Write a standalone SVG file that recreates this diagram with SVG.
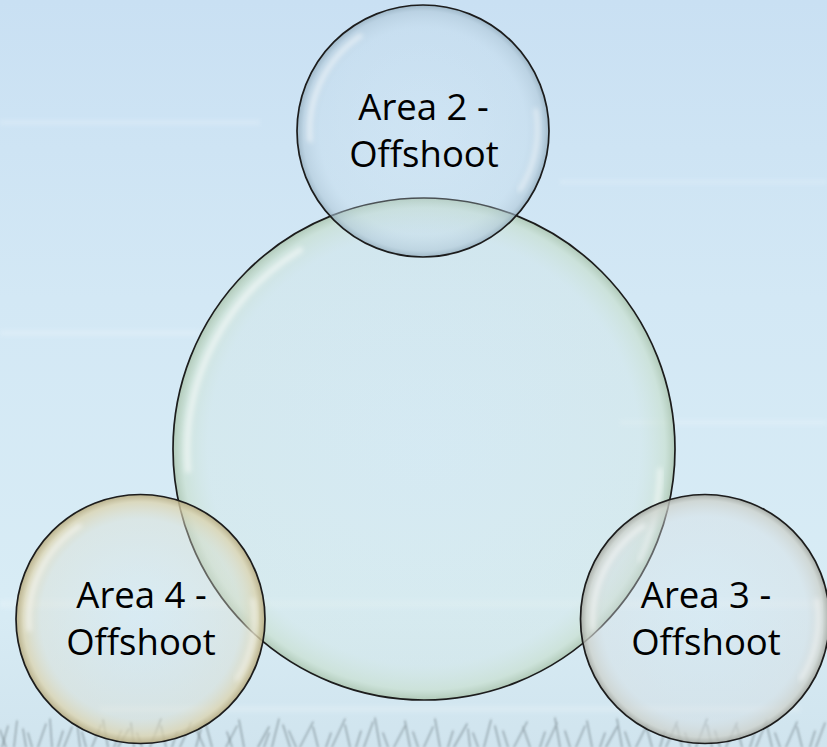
<svg xmlns="http://www.w3.org/2000/svg" width="827" height="747" viewBox="0 0 827 747">
<defs>
  <linearGradient id="sky" x1="0" y1="0" x2="0" y2="1">
    <stop offset="0" stop-color="#c9e0f3"/>
    <stop offset="0.4" stop-color="#d3e8f5"/>
    <stop offset="0.8" stop-color="#d8ecf5"/>
    <stop offset="1" stop-color="#d0e4ee"/>
  </linearGradient>
  <radialGradient id="gTop" cx="0.5" cy="0.5" r="0.5">
    <stop offset="0" stop-color="#d2e6f2" stop-opacity="0.2"/>
    <stop offset="0.82" stop-color="#c2d9e8" stop-opacity="0.3"/>
    <stop offset="0.95" stop-color="#aec6d6" stop-opacity="0.55"/>
    <stop offset="1" stop-color="#8ea8b8" stop-opacity="0.75"/>
  </radialGradient>
  <radialGradient id="gMain" cx="0.5" cy="0.5" r="0.5">
    <stop offset="0" stop-color="#d3e8ec" stop-opacity="0.25"/>
    <stop offset="0.86" stop-color="#d2e6e0" stop-opacity="0.3"/>
    <stop offset="0.96" stop-color="#c8dfcd" stop-opacity="0.65"/>
    <stop offset="1" stop-color="#aac4ae" stop-opacity="0.85"/>
  </radialGradient>
  <radialGradient id="gLeft" cx="0.5" cy="0.5" r="0.5">
    <stop offset="0" stop-color="#dae9ef" stop-opacity="0.25"/>
    <stop offset="0.8" stop-color="#dedfcf" stop-opacity="0.4"/>
    <stop offset="0.94" stop-color="#dcd3ad" stop-opacity="0.75"/>
    <stop offset="1" stop-color="#b5aa80" stop-opacity="0.9"/>
  </radialGradient>
  <radialGradient id="gRight" cx="0.5" cy="0.5" r="0.5">
    <stop offset="0" stop-color="#d8e6ee" stop-opacity="0.25"/>
    <stop offset="0.82" stop-color="#d8dfe2" stop-opacity="0.4"/>
    <stop offset="0.95" stop-color="#cdd1cb" stop-opacity="0.75"/>
    <stop offset="1" stop-color="#a2a69f" stop-opacity="0.9"/>
  </radialGradient>
  <filter id="soft" x="-20%" y="-20%" width="140%" height="140%">
    <feGaussianBlur stdDeviation="2.5"/>
  </filter>
  <filter id="grassBlur" x="-5%" y="-50%" width="110%" height="200%">
    <feGaussianBlur stdDeviation="1.2"/>
  </filter>
  <filter id="streakBlur" x="-10%" y="-100%" width="120%" height="300%">
    <feGaussianBlur stdDeviation="2"/>
  </filter>
</defs>
<style>
  .rim { stroke: #1c1c1c; stroke-width: 1.7; }
  .hl { fill: none; stroke: #ffffff; stroke-opacity: 0.55; stroke-linecap: round; filter: url(#soft); }
  .label { font-family: "Open Sans", "Liberation Sans", sans-serif; font-size: 36.5px; fill: #000000; text-anchor: middle; }
  .grass { stroke: #5f6d74; stroke-opacity: 0.5; stroke-width: 1.6; fill: none; stroke-linecap: round; }
  .streak { fill: #ffffff; }
</style>

<rect x="0" y="0" width="827" height="747" fill="url(#sky)"/>
<g id="streaks" opacity="0.18" filter="url(#streakBlur)">
  <rect class="streak" x="0" y="120" width="260" height="5"/>
  <rect class="streak" x="560" y="180" width="267" height="4"/>
  <rect class="streak" x="0" y="330" width="200" height="6"/>
  <rect class="streak" x="620" y="420" width="207" height="5"/>
  <rect class="streak" x="0" y="600" width="827" height="8"/>
  <rect class="streak" x="100" y="706" width="700" height="6"/>
</g>

<g id="grass-bg" filter="url(#grassBlur)">
  <path class="grass" d="M2 747 L8 726 M14 747 L17 721 M26 747 L23 729 M38 747 L46 724 M52 747 L50 719 M64 747 L72 727 M80 747 L77 722 M92 747 L101 725 M108 747 L103 720 M118 747 L129 729 M134 747 L131 723 M150 747 L161 719 M166 747 L161 726 M180 747 L191 723 M196 747 L201 729 M212 747 L205 721 M226 747 L237 726 M244 747 L239 720 M258 747 L269 727 M272 747 L279 719 M290 747 L283 725 M300 747 L313 722 M318 747 L313 727 M332 747 L345 719 M350 747 L345 725 M364 747 L373 722 M380 747 L375 718 M394 747 L405 726 M410 747 L405 721 M424 747 L433 727 M440 747 L435 719 M454 747 L467 724 M470 747 L468 729 M484 747 L491 720 M500 747 L495 726 M514 747 L527 722 M530 747 L523 727 M546 747 L557 723 M560 747 L555 718 M576 747 L585 726 M592 747 L587 721 M606 747 L617 727 M622 747 L617 719 M636 747 L647 725 M652 747 L647 729 M666 747 L677 722 M682 747 L677 726 M696 747 L707 719 M712 747 L707 725 M726 747 L737 723 M742 747 L737 727 M756 747 L767 720 M772 747 L767 726 M786 747 L797 722 M802 747 L797 727 M816 747 L825 723"/>
  <path class="grass" stroke-opacity="0.35" d="M6 747 L0 730 M32 747 L28 733 M58 747 L63 731 M86 747 L82 732 M114 747 L121 731 M142 747 L137 733 M172 747 L177 732 M204 747 L197 731 M232 747 L227 732 M264 747 L269 733 M296 747 L289 731 M326 747 L331 733 M356 747 L361 731 M388 747 L383 733 M418 747 L413 732 M448 747 L453 731 M478 747 L473 733 M508 747 L503 731 M540 747 L545 732 M570 747 L565 731 M600 747 L605 733 M630 747 L625 732 M660 747 L665 731 M690 747 L685 733 M720 747 L715 731 M750 747 L755 732 M780 747 L775 733 M810 747 L815 731"/>
</g>

<g id="node-center">
  <circle cx="424" cy="449" r="251" fill="url(#gMain)" class="rim"/>
  <path class="hl" stroke-width="6" d="M 188 470 A 236 236 0 0 1 300 250"/>
  <path class="hl" stroke-width="5" d="M 660 470 A 236 236 0 0 1 640 560"/>
</g>

<g id="node-area2">
  <circle cx="423" cy="131" r="126" fill="url(#gTop)" class="rim"/>
  <path class="hl" stroke-width="5" d="M 310 140 A 114 114 0 0 1 360 36"/>
  <path class="hl" stroke-width="4" d="M 536 110 A 114 114 0 0 1 520 190"/>
  <text class="label" x="423.5" y="120">Area 2 -</text>
  <text class="label" x="424" y="167">Offshoot</text>
</g>

<g id="node-area4">
  <circle cx="140.5" cy="619" r="124.5" fill="url(#gLeft)" class="rim"/>
  <path class="hl" stroke-width="5" d="M 29 629 A 113 113 0 0 1 79 526"/>
  <path class="hl" stroke-width="4" d="M 253 600 A 113 113 0 0 1 237 679"/>
  <text class="label" x="141.5" y="608">Area 4 -</text>
  <text class="label" x="141" y="655">Offshoot</text>
</g>

<g id="node-area3">
  <circle cx="705" cy="619" r="124.5" fill="url(#gRight)" class="rim"/>
  <path class="hl" stroke-width="5" d="M 593 629 A 113 113 0 0 1 643 526"/>
  <path class="hl" stroke-width="4" d="M 817 600 A 113 113 0 0 1 801 679"/>
  <text class="label" x="706" y="608">Area 3 -</text>
  <text class="label" x="706" y="655">Offshoot</text>
</g>

<g id="connectors"></g>
</svg>
